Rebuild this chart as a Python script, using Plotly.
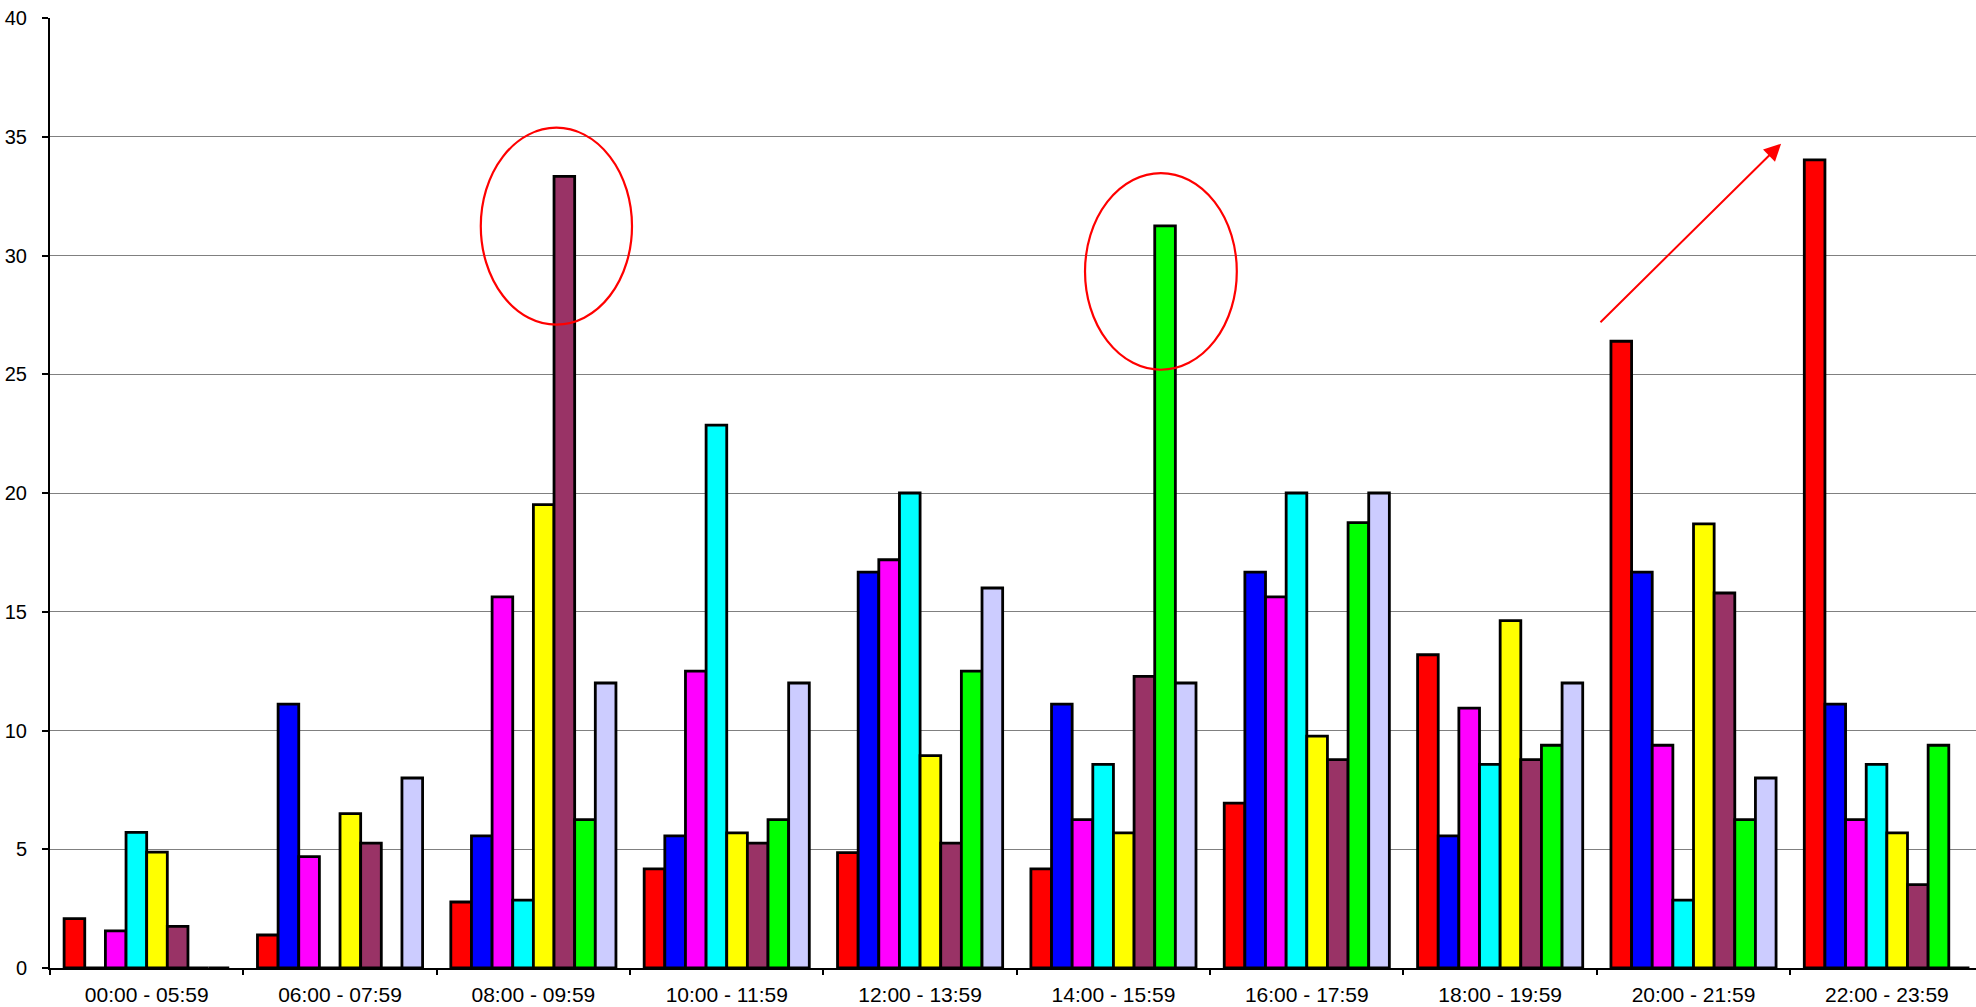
import plotly.graph_objects as go

# Time slots on the category axis
time_slots = ["00:00 - 05:59", "06:00 - 07:59", "08:00 - 09:59", "10:00 - 11:59",
              "12:00 - 13:59", "14:00 - 15:59", "16:00 - 17:59", "18:00 - 19:59",
              "20:00 - 21:59", "22:00 - 23:59"]

# Share (%) of each series falling into each time slot
series_red = [2.08, 1.39, 2.78, 4.17, 4.86, 4.17, 6.94, 13.19, 26.39, 34.03]
series_blue = [0, 11.11, 5.56, 5.56, 16.67, 11.11, 16.67, 5.56, 16.67, 11.11]
series_magenta = [1.56, 4.69, 15.63, 12.50, 17.19, 6.25, 15.63, 10.94, 9.38, 6.25]
series_cyan = [5.71, 0, 2.86, 22.86, 20.00, 8.57, 20.00, 8.57, 2.86, 8.57]
series_yellow = [4.88, 6.50, 19.51, 5.69, 8.94, 5.69, 9.76, 14.63, 18.70, 5.69]
series_plum = [1.75, 5.26, 33.33, 5.26, 5.26, 12.28, 8.77, 8.77, 15.79, 3.51]
series_green = [0, 0, 6.25, 6.25, 12.50, 31.25, 18.75, 9.38, 6.25, 9.38]
series_lavender = [0, 8.00, 12.00, 12.00, 16.00, 12.00, 20.00, 12.00, 8.00, 0]

series = [
    ("A", series_red, "#FF0000"),
    ("B", series_blue, "#0000FF"),
    ("C", series_magenta, "#FF00FF"),
    ("D", series_cyan, "#00FFFF"),
    ("E", series_yellow, "#FFFF00"),
    ("F", series_plum, "#993366"),
    ("G", series_green, "#00FF00"),
    ("H", series_lavender, "#CCCCFF"),
]

y_ticks = [0, 5, 10, 15, 20, 25, 30, 35, 40]

fig = go.Figure()
for name, values, color in series:
    fig.add_trace(go.Bar(
        x=time_slots, y=values, name=name,
        marker=dict(color=color, line=dict(color="#000000", width=2.8)),
        hoverinfo="x+y",
    ))

red = "#FF0000"
# Highlight rings around the two peak bars
fig.add_shape(type="circle", xref="x", yref="y",
              x0=1.728, x1=2.510, y0=27.09, y1=35.38,
              line=dict(color=red, width=2.2))
fig.add_shape(type="circle", xref="x", yref="y",
              x0=4.853, x1=5.638, y0=25.19, y1=33.47,
              line=dict(color=red, width=2.2))
# Rising trend arrow over the evening slots
fig.add_annotation(x=8.453, y=34.71, ax=7.511, ay=27.13,
                   xref="x", yref="y", axref="x", ayref="y",
                   text="", showarrow=True, arrowhead=2, arrowsize=1.7,
                   arrowwidth=2, arrowcolor=red)

font = "Arial, 'Liberation Sans', sans-serif"
fig.update_layout(
    width=1976, height=1007,
    margin=dict(l=50, r=0, t=18, b=39),
    paper_bgcolor="#FFFFFF", plot_bgcolor="#FFFFFF",
    barmode="group", bargap=0.146, bargroupgap=0,
    showlegend=False,
    font=dict(family=font, color="#000000"),
    xaxis=dict(
        type="category", range=[-0.5, 9.461],
        showline=True, linecolor="#000000", linewidth=2,
        ticks="outside", tickson="boundaries", ticklen=5, tickwidth=2,
        tickcolor="#000000", showgrid=False, zeroline=False,
        tickfont=dict(size=21, family=font, color="#000000"),
        ticklabelstandoff=7,
        fixedrange=True,
    ),
    yaxis=dict(
        range=[0, 40], tickvals=y_ticks,
        showline=True, linecolor="#000000", linewidth=2,
        ticks="outside", ticklen=6, tickwidth=2, tickcolor="#000000",
        showgrid=True, gridcolor="#808080", gridwidth=1,
        zeroline=False,
        tickfont=dict(size=20, family=font, color="#000000"),
        ticklabelstandoff=11,
        fixedrange=True,
    ),
)

fig.write_html("out.html", config={"displayModeBar": False})
